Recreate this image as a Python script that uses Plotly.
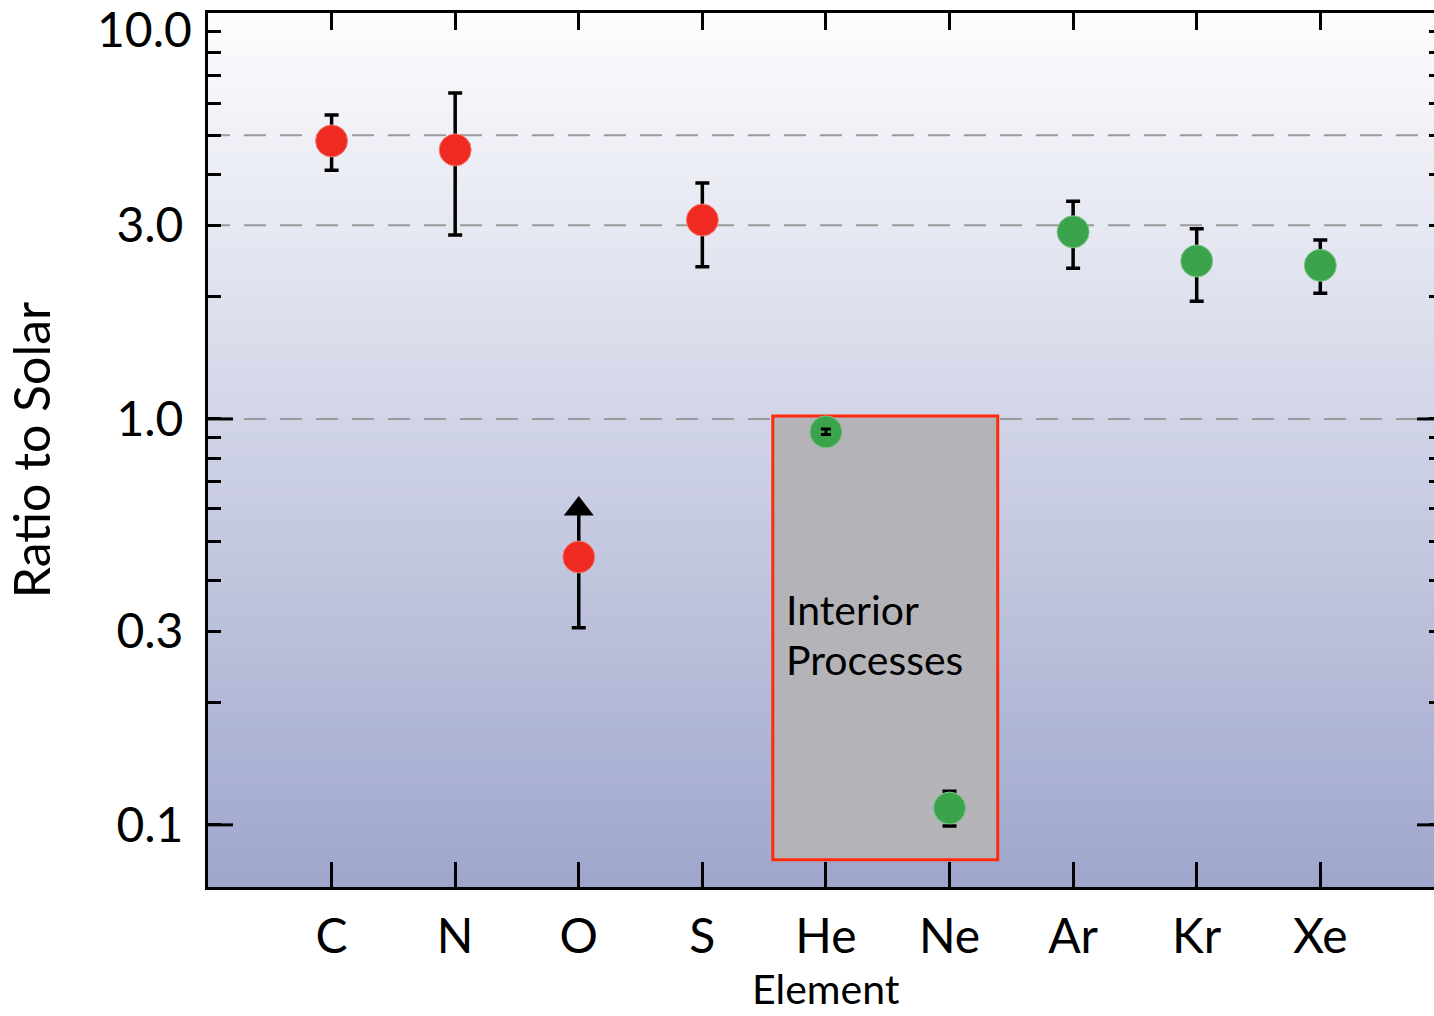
import math
import plotly.graph_objects as go

# ---------------- data ----------------
elements = ["C", "N", "O", "S", "He", "Ne", "Ar", "Kr", "Xe"]

red_elements = ["C", "N", "S"]
red_ratio = [4.84, 4.60, 3.09]
red_upper = [5.61, 6.35, 3.81]
red_lower = [4.10, 2.84, 2.37]

o_element = ["O"]
o_ratio = [0.457]
o_lower = [0.306]
o_arrow_top = [0.60]   # lower-limit arrow head

green_elements = ["He", "Ne", "Ar", "Kr", "Xe"]
green_ratio = [0.929, 0.110, 2.89, 2.45, 2.39]
green_upper = [0.945, 0.121, 3.44, 2.94, 2.76]
green_lower = [0.915, 0.0994, 2.35, 1.95, 2.04]

ref_levels = [5.0, 3.0, 1.0]

y_ticks = [0.1, 0.2, 0.3, 0.4, 0.5, 0.6, 0.7, 0.8, 0.9,
           1, 2, 3, 4, 5, 6, 7, 8, 9]
y_ticktext = {0.1: "0.1", 0.3: "0.3", 1: "1.0", 3: "3.0"}
y_long_ticks = [0.1, 1.0]

box_x = [3.57, 5.39]          # category-index span of "Interior Processes" box
box_y = [0.082, 1.017]
box_lines = ["Interior", "Processes"]
box_line_y = [0.340, 0.255]

x_title = "Element"
y_title = "Ratio to Solar"

# ---------------- styling ----------------
FONT = "Lato"
RED = "#ee2a22"
GREEN = "#3aa34b"
W, H = 1434, 1016
ML, MR, MT, MB = 208, 0, 13, 129
PW = W - ML - MR
YR = [math.log10(0.0703), 1.0]
XR = [-1.0, 8.92]
EB = dict(color="black", thickness=3.5, width=7)

fig = go.Figure()

def err(vals, up, lo):
    return dict(type="data", symmetric=False,
                array=[u - v for u, v in zip(up, vals)],
                arrayminus=[v - l for v, l in zip(vals, lo)], **EB)

fig.add_trace(go.Scatter(
    x=red_elements, y=red_ratio, mode="markers",
    marker=dict(size=32, color=RED, line=dict(width=1, color="#f08070")),
    error_y=err(red_ratio, red_upper, red_lower), showlegend=False))

# O: lower limit
fig.add_trace(go.Scatter(
    x=o_element * 2, y=[o_ratio[0], o_arrow_top[0]], mode="lines",
    line=dict(color="black", width=3.5), showlegend=False, hoverinfo="skip"))
fig.add_trace(go.Scatter(
    x=o_element, y=o_arrow_top, mode="markers",
    marker=dict(symbol="triangle-up", size=26, color="black"),
    showlegend=False, hoverinfo="skip"))
fig.add_trace(go.Scatter(
    x=o_element, y=o_ratio, mode="markers",
    marker=dict(size=32, color=RED, line=dict(width=1, color="#f08070")),
    error_y=dict(type="data", symmetric=False, array=[0],
                 arrayminus=[o_ratio[0] - o_lower[0]], **EB),
    showlegend=False))

fig.add_trace(go.Scatter(
    x=green_elements, y=green_ratio, mode="markers",
    marker=dict(size=32, color=GREEN, line=dict(width=1, color="#7cc488")),
    error_y=err(green_ratio, green_upper, green_lower), showlegend=False))

# He error bar drawn on top of its marker (as in the original)
ih = green_elements.index("He")
fig.add_trace(go.Scatter(
    x=[green_elements[ih]], y=[green_ratio[ih]], mode="markers",
    marker=dict(size=1, color="rgba(0,0,0,0)"),
    error_y=dict(type="data", symmetric=False,
                 array=[green_upper[ih] - green_ratio[ih]],
                 arrayminus=[green_ratio[ih] - green_lower[ih]],
                 color="black", thickness=3, width=5),
    showlegend=False, hoverinfo="skip"))

# helper traces so that the mirrored tick axes are rendered
fig.add_trace(go.Scatter(x=[0], y=[1], xaxis="x2", yaxis="y", mode="markers",
                         marker=dict(size=1, color="rgba(0,0,0,0)"),
                         showlegend=False, hoverinfo="skip"))
fig.add_trace(go.Scatter(x=[elements[0]], y=[1], xaxis="x", yaxis="y2",
                         mode="markers",
                         marker=dict(size=1, color="rgba(0,0,0,0)"),
                         showlegend=False, hoverinfo="skip"))

# ---------------- shapes ----------------
shapes = []
N = 160
top_c = (253, 253, 254)
bot_c = (159, 166, 204)
for i in range(N):
    t = (i + 0.5) / N
    c = tuple(round(b + (tc - b) * t) for b, tc in zip(bot_c, top_c))
    shapes.append(dict(type="rect", xref="x domain", yref="y domain",
                       x0=0, x1=1, y0=i / N, y1=(i + 1) / N + 0.002,
                       fillcolor="rgb(%d,%d,%d)" % c, line=dict(width=0),
                       layer="below"))

shapes.append(dict(type="rect", xref="x", yref="y",
                   x0=box_x[0], x1=box_x[1], y0=box_y[0], y1=box_y[1],
                   fillcolor="#b4b3b8", line=dict(color="#ff2a0a", width=3),
                   layer="below"))

for lv in ref_levels:
    shapes.append(dict(type="line", xref="x domain", yref="y",
                       x0=0, x1=1, y0=lv, y1=lv,
                       line=dict(color="#9a9a9a", width=2, dash="22px,14px"),
                       layer="below"))

for lv in y_long_ticks:
    shapes.append(dict(type="line", xref="paper", yref="y",
                       x0=0, x1=25 / PW, y0=lv, y1=lv,
                       line=dict(color="black", width=3)))
    shapes.append(dict(type="line", xref="paper", yref="y",
                       x0=1 - 17 / PW, x1=1, y0=lv, y1=lv,
                       line=dict(color="black", width=3)))

fig.update_layout(shapes=shapes)

# ---------------- annotations ----------------
for txt, yv in zip(box_lines, box_line_y):
    fig.add_annotation(x=3.66, y=math.log10(yv), xref="x", yref="y",
                       text=txt, showarrow=False,
                       xanchor="left", yanchor="middle", align="left",
                       font=dict(family=FONT, size=41, color="black"))
fig.add_annotation(x=0, y=1, xref="paper", yref="paper",
                   text="10.0", showarrow=False, xanchor="right",
                   yanchor="middle", xshift=-14, yshift=-15,
                   font=dict(family=FONT, size=48, color="black"))
# x-axis title
fig.add_annotation(x=4, y=0, xref="x", yref="paper",
                   text=x_title, showarrow=False, xanchor="center",
                   yanchor="bottom", yshift=-128,
                   font=dict(family=FONT, size=41, color="black"))

# ---------------- axes ----------------
fig.update_layout(
    width=W, height=H,
    margin=dict(l=ML, r=MR, t=MT, b=MB, autoexpand=False),
    paper_bgcolor="white", plot_bgcolor="white",
    font=dict(family=FONT, size=48, color="black"),
    xaxis=dict(type="category", categoryorder="array", categoryarray=elements,
               range=XR, showline=True, mirror=True, linecolor="black",
               linewidth=3, ticks="inside", ticklen=25, tickwidth=3,
               tickcolor="black", showgrid=False, zeroline=False,
               ticklabelstandoff=5, automargin=False,
               tickfont=dict(family=FONT, size=48)),
    xaxis2=dict(overlaying="x", side="top", anchor="y", range=XR,
                tickmode="array", tickvals=list(range(len(elements))),
                ticks="inside", ticklen=17, tickwidth=3, tickcolor="black",
                showticklabels=False, showline=False, showgrid=False,
                zeroline=False, automargin=False),
    yaxis=dict(type="log", range=YR, showline=True, linecolor="black",
               linewidth=3, mirror=False, tickmode="array", tickvals=y_ticks,
               ticktext=[y_ticktext.get(v, "") for v in y_ticks],
               ticks="inside", ticklen=13, tickwidth=3, tickcolor="black",
               showgrid=False, zeroline=False, ticklabelstandoff=12,
               automargin=False,
               tickfont=dict(family=FONT, size=48),
               title=dict(text=y_title, standoff=50,
                          font=dict(family=FONT, size=50))),
    yaxis2=dict(type="log", overlaying="y", side="right", anchor="x",
                range=YR, tickmode="array", tickvals=y_ticks,
                ticks="inside", ticklen=5, tickwidth=3, tickcolor="black",
                showticklabels=False, showline=False, showgrid=False,
                zeroline=False, automargin=False),
)

fig.write_html("out.html")
